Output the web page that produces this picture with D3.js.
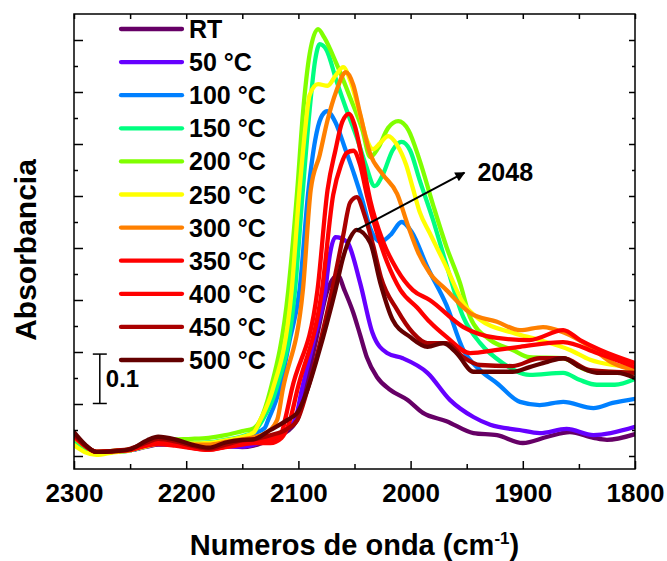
<!DOCTYPE html>
<html>
<head>
<meta charset="utf-8">
<script src="https://cdn.jsdelivr.net/npm/d3@7"></script>
<style>
html,body{margin:0;padding:0;background:#fff;}
svg{display:block;}
text{font-family:"Liberation Sans",Arial,sans-serif;font-weight:bold;fill:#000;}
</style>
</head>
<body>
<svg id="chart" width="667" height="561"></svg>
<script>
// ---- data: [wavenumber (cm-1), absorbance] ----
const seriesLabels = ["RT","50 °C","100 °C","150 °C","200 °C","250 °C","300 °C","350 °C","400 °C","450 °C","500 °C"];
const seriesColors = ["#660066","#6600ff","#0080ff","#00ff80","#80ff00","#ffff00","#ff8000","#ff0000","#ff0000","#aa0000","#640000"];

const sRT = [[2300,0.030],[2290,0.016],[2280,0.007],[2265,0.009],[2250,0.011],[2235,0.018],[2225,0.022],[2210,0.022],[2195,0.020],[2180,0.016],[2165,0.020],[2150,0.017],[2140,0.020],[2130,0.027],[2115,0.040],[2106,0.055],[2100,0.075],[2094,0.127],[2084,0.225],[2074,0.319],[2070,0.338],[2065,0.348],[2059,0.319],[2051,0.275],[2045,0.233],[2039,0.190],[2030,0.152],[2018,0.127],[2003,0.108],[1989,0.083],[1968,0.067],[1944,0.044],[1923,0.040],[1900,0.025],[1878,0.037],[1858,0.046],[1837,0.035],[1825,0.031],[1800,0.042]];
const s50 = [[2300,0.032],[2290,0.017],[2280,0.007],[2265,0.009],[2250,0.011],[2235,0.019],[2225,0.023],[2210,0.023],[2195,0.021],[2180,0.019],[2165,0.018],[2150,0.018],[2140,0.022],[2130,0.030],[2115,0.045],[2103,0.069],[2097,0.127],[2086,0.225],[2076,0.319],[2072,0.387],[2067,0.421],[2062,0.419],[2056,0.410],[2045,0.333],[2034,0.237],[2021,0.198],[2007,0.188],[1985,0.160],[1965,0.108],[1944,0.075],[1929,0.060],[1903,0.050],[1885,0.044],[1861,0.052],[1837,0.040],[1800,0.056]];
const s100 = [[2300,0.031],[2290,0.014],[2280,0.006],[2265,0.008],[2250,0.011],[2235,0.020],[2225,0.025],[2210,0.025],[2195,0.024],[2180,0.025],[2165,0.029],[2150,0.036],[2140,0.043],[2130,0.054],[2127,0.069],[2117,0.127],[2108,0.220],[2099,0.319],[2091,0.512],[2085,0.608],[2080,0.650],[2074.5,0.663],[2067,0.642],[2058.5,0.592],[2050,0.540],[2043,0.492],[2036,0.438],[2027,0.412],[2018,0.425],[2008,0.450],[1999,0.431],[1985,0.363],[1968,0.290],[1953,0.204],[1938,0.165],[1923,0.140],[1902.5,0.104],[1885,0.098],[1864,0.104],[1837,0.092],[1820,0.102],[1800,0.110]];
const s150 = [[2300,0.028],[2290,0.012],[2280,0.005],[2265,0.008],[2250,0.011],[2235,0.020],[2225,0.026],[2210,0.026],[2195,0.025],[2180,0.026],[2165,0.031],[2150,0.038],[2140,0.046],[2132,0.069],[2120,0.127],[2103,0.319],[2096,0.512],[2090,0.665],[2085,0.762],[2081,0.792],[2075,0.781],[2066,0.721],[2057,0.665],[2048,0.613],[2040,0.560],[2032,0.519],[2025,0.540],[2016,0.588],[2008,0.604],[2000.5,0.588],[1992,0.531],[1980,0.454],[1968,0.367],[1953,0.267],[1938,0.217],[1918,0.179],[1894,0.156],[1864,0.160],[1849,0.146],[1834,0.137],[1818,0.137],[1800,0.148]];
const s200 = [[2300,0.035],[2290,0.018],[2280,0.008],[2265,0.010],[2250,0.013],[2235,0.022],[2225,0.030],[2210,0.032],[2195,0.033],[2180,0.035],[2165,0.040],[2150,0.048],[2140,0.053],[2134,0.069],[2125,0.127],[2109,0.319],[2101,0.512],[2096,0.658],[2090,0.773],[2082.5,0.821],[2077,0.805],[2066,0.754],[2054,0.690],[2043,0.627],[2036,0.575],[2029,0.592],[2020,0.631],[2011,0.644],[2002,0.627],[1992,0.569],[1980,0.483],[1968,0.402],[1956,0.333],[1947,0.267],[1929,0.223],[1909,0.204],[1894,0.190],[1864,0.188],[1843,0.165],[1828,0.162],[1800,0.160]];
const s250 = [[2300,0.021],[2290,0.007],[2280,0.002],[2265,0.007],[2250,0.011],[2235,0.019],[2225,0.024],[2210,0.025],[2195,0.024],[2180,0.025],[2165,0.030],[2150,0.037],[2140,0.045],[2134,0.069],[2123,0.127],[2106,0.319],[2099,0.512],[2094,0.627],[2090,0.694],[2082.5,0.715],[2074,0.712],[2066.5,0.733],[2060,0.748],[2054,0.723],[2045,0.656],[2039,0.608],[2033.5,0.590],[2027,0.602],[2020,0.615],[2012,0.598],[2004,0.560],[1998,0.515],[1992,0.470],[1983,0.429],[1968,0.363],[1953,0.294],[1938,0.262],[1909,0.237],[1885,0.223],[1858,0.204],[1840,0.185],[1820,0.175],[1800,0.171]];
const s300 = [[2300,0.036],[2290,0.019],[2280,0.008],[2265,0.009],[2250,0.012],[2235,0.021],[2225,0.025],[2210,0.024],[2195,0.022],[2180,0.022],[2165,0.027],[2150,0.032],[2140,0.036],[2130,0.043],[2119,0.069],[2114,0.127],[2096,0.319],[2089,0.512],[2081,0.579],[2074,0.646],[2066.5,0.700],[2057.6,0.738],[2051,0.713],[2045,0.658],[2036,0.581],[2025,0.542],[2012,0.504],[2002.5,0.444],[1993,0.390],[1983,0.352],[1968,0.319],[1947,0.275],[1923,0.258],[1902.5,0.242],[1882,0.248],[1864,0.238],[1840,0.210],[1820,0.179],[1800,0.165]];
const s350 = [[2300,0.040],[2290,0.020],[2280,0.008],[2265,0.010],[2250,0.012],[2235,0.022],[2225,0.025],[2210,0.022],[2195,0.016],[2180,0.012],[2165,0.018],[2150,0.024],[2140,0.028],[2125,0.032],[2115,0.045],[2112,0.069],[2106,0.127],[2083,0.319],[2074,0.512],[2067,0.588],[2061,0.642],[2055,0.658],[2050,0.637],[2043,0.569],[2036,0.492],[2025,0.415],[2012,0.358],[1998,0.319],[1983,0.300],[1953,0.248],[1923,0.227],[1894,0.223],[1864,0.242],[1849,0.223],[1831,0.204],[1800,0.179]];
const s400 = [[2300,0.038],[2290,0.019],[2280,0.008],[2265,0.009],[2250,0.012],[2235,0.020],[2225,0.023],[2210,0.020],[2195,0.015],[2180,0.012],[2165,0.017],[2150,0.022],[2140,0.025],[2125,0.025],[2115,0.035],[2107.5,0.069],[2101,0.127],[2079,0.319],[2069,0.502],[2062,0.560],[2057,0.583],[2051,0.587],[2045,0.560],[2039,0.502],[2032,0.444],[2021,0.373],[2009,0.319],[1994,0.285],[1983,0.258],[1968,0.229],[1947,0.198],[1923,0.204],[1902.5,0.210],[1864,0.219],[1834,0.198],[1800,0.171]];
const s450 = [[2300,0.042],[2290,0.020],[2280,0.008],[2265,0.010],[2250,0.014],[2235,0.026],[2225,0.033],[2210,0.028],[2195,0.020],[2180,0.014],[2165,0.022],[2150,0.030],[2140,0.032],[2125,0.040],[2110,0.052],[2101,0.069],[2092,0.127],[2070,0.319],[2060,0.425],[2054,0.487],[2048,0.498],[2041,0.463],[2033.5,0.406],[2026.5,0.344],[2012,0.281],[1998,0.237],[1985,0.217],[1968,0.217],[1953,0.190],[1938,0.175],[1909,0.173],[1885,0.188],[1864,0.188],[1840,0.165],[1800,0.160]];
const s500 = [[2300,0.046],[2290,0.022],[2280,0.008],[2265,0.009],[2250,0.013],[2235,0.030],[2225,0.037],[2210,0.032],[2195,0.022],[2180,0.016],[2165,0.026],[2150,0.031],[2140,0.032],[2125,0.050],[2110,0.069],[2101,0.083],[2092,0.127],[2083,0.190],[2074.5,0.256],[2067,0.319],[2060,0.383],[2054,0.419],[2048,0.435],[2036,0.410],[2027,0.333],[2016,0.262],[2000.5,0.229],[1985,0.210],[1971,0.217],[1959,0.198],[1944,0.162],[1923,0.162],[1909,0.162],[1894,0.171],[1878,0.181],[1864,0.188],[1849,0.171],[1834,0.160],[1816,0.160],[1800,0.150]];

const seriesData = [sRT,s50,s100,s150,s200,s250,s300,s350,s400,s450,s500];

const xMajorTicks = [2300,2200,2100,2000,1900,1800];
const xMinorTicks = [2250,2150,2050,1950,1850];
const yMajorTicks = [0,0.1,0.2,0.3,0.4,0.5,0.6,0.7,0.8];
const yMinorTicks = [0.05,0.15,0.25,0.35,0.45,0.55,0.65,0.75];

const annotationLabel = "2048";
const annotationFrom = [2048, 0.435];
const annotationTo = [1952, 0.545];
const scaleBarLabel = "0.1";
const scaleBarRange = [0.101, 0.196];
const scaleBarWn = 2277;

// ---- drawing ----
const svg = d3.select("#chart");
const L = 74, R = 635, T = 14, B = 469;
const x = d3.scaleLinear().domain([2300,1800]).range([L,R]);
const y = d3.scaleLinear().domain([-0.025,0.85]).range([B,T]);

const defs = svg.append("defs");
defs.append("clipPath").attr("id","clip")
  .append("rect").attr("x",L).attr("y",T).attr("width",R-L).attr("height",B-T);
defs.append("marker").attr("id","arrow")
  .attr("viewBox","0 0 10 10").attr("refX",9).attr("refY",5)
  .attr("markerWidth",14).attr("markerHeight",10).attr("markerUnits","userSpaceOnUse")
  .attr("orient","auto")
  .append("path").attr("d","M0,0 L10,5 L0,10 z").attr("fill","#000");

const line = d3.line().x(d=>x(d[0])).y(d=>y(d[1])).curve(d3.curveMonotoneX);

const gLines = svg.append("g").attr("clip-path","url(#clip)");
seriesData.forEach((s,i)=>{
  gLines.append("path").attr("d",line(s)).attr("fill","none")
    .attr("stroke",seriesColors[i]).attr("stroke-width",4.3)
    .attr("stroke-linejoin","round").attr("stroke-linecap","round");
});

// axes
function styleAxis(g){ g.select(".domain").remove(); g.selectAll(".tick line").attr("stroke","#000").attr("stroke-width",1.5); }

svg.append("g").attr("transform",`translate(0,${B})`)
  .call(d3.axisBottom(x).tickValues(xMajorTicks).tickSize(-8).tickPadding(15).tickFormat(d3.format("d")))
  .call(styleAxis)
  .call(g=>g.selectAll("text").attr("font-size",26).attr("font-family","Liberation Sans, Arial, sans-serif").attr("font-weight","bold").attr("fill","#000"));
svg.append("g").attr("transform",`translate(0,${B})`)
  .call(d3.axisBottom(x).tickValues(xMinorTicks).tickSize(-5).tickFormat(""))
  .call(styleAxis);
svg.append("g").attr("transform",`translate(0,${T})`)
  .call(d3.axisTop(x).tickValues(xMajorTicks.concat(xMinorTicks)).tickSize(-5).tickFormat(""))
  .call(styleAxis);
svg.append("g").attr("transform",`translate(${L},0)`)
  .call(d3.axisLeft(y).tickValues(yMajorTicks).tickSize(-9).tickFormat(""))
  .call(styleAxis);
svg.append("g").attr("transform",`translate(${L},0)`)
  .call(d3.axisLeft(y).tickValues(yMinorTicks).tickSize(-4).tickFormat(""))
  .call(styleAxis);
svg.append("g").attr("transform",`translate(${R},0)`)
  .call(d3.axisRight(y).tickValues(yMajorTicks).tickSize(-6).tickFormat(""))
  .call(styleAxis);
svg.append("g").attr("transform",`translate(${R},0)`)
  .call(d3.axisRight(y).tickValues(yMinorTicks).tickSize(-3).tickFormat(""))
  .call(styleAxis);

svg.append("rect").attr("x",L).attr("y",T).attr("width",R-L).attr("height",B-T)
  .attr("fill","none").attr("stroke","#000").attr("stroke-width",1.5);

// axis titles
const xt = svg.append("text").attr("x",(L+R)/2).attr("y",555).attr("text-anchor","middle").attr("font-size",29);
xt.append("tspan").text("Numeros de onda (cm");
xt.append("tspan").attr("dy",-11).attr("font-size",17).text("-1");
xt.append("tspan").attr("dy",11).text(")");

svg.append("text").attr("transform","translate(36,250) rotate(-90)").attr("text-anchor","middle")
  .attr("font-size",30).text("Absorbancia");

// legend
const legY = d3.scaleLinear().domain([0,10]).range([29,360]);
const leg = svg.append("g");
seriesLabels.forEach((lab,i)=>{
  const yy = legY(i);
  leg.append("line").attr("x1",121).attr("x2",182).attr("y1",yy).attr("y2",yy)
    .attr("stroke",seriesColors[i]).attr("stroke-width",4.3).attr("stroke-linecap","round");
  leg.append("text").attr("x",189).attr("y",yy+9).attr("font-size",25).text(lab);
});

// scale bar
const sbx = x(scaleBarWn);
const sb = svg.append("g").attr("stroke","#000").attr("stroke-width",1.5);
sb.append("line").attr("x1",sbx).attr("x2",sbx).attr("y1",y(scaleBarRange[0])).attr("y2",y(scaleBarRange[1]));
sb.append("line").attr("x1",sbx-7).attr("x2",sbx+7).attr("y1",y(scaleBarRange[0])).attr("y2",y(scaleBarRange[0]));
sb.append("line").attr("x1",sbx-7).attr("x2",sbx+7).attr("y1",y(scaleBarRange[1])).attr("y2",y(scaleBarRange[1]));
svg.append("text").attr("x",sbx+6).attr("y",387).attr("font-size",24).text(scaleBarLabel);

// annotation arrow
svg.append("line").attr("x1",x(annotationFrom[0])).attr("y1",y(annotationFrom[1]))
  .attr("x2",x(annotationTo[0])).attr("y2",y(annotationTo[1]))
  .attr("stroke","#000").attr("stroke-width",2).attr("marker-end","url(#arrow)");
svg.append("text").attr("x",x(annotationTo[0])+13).attr("y",y(annotationTo[1])+8).attr("font-size",25).text(annotationLabel);
</script>
</body>
</html>
